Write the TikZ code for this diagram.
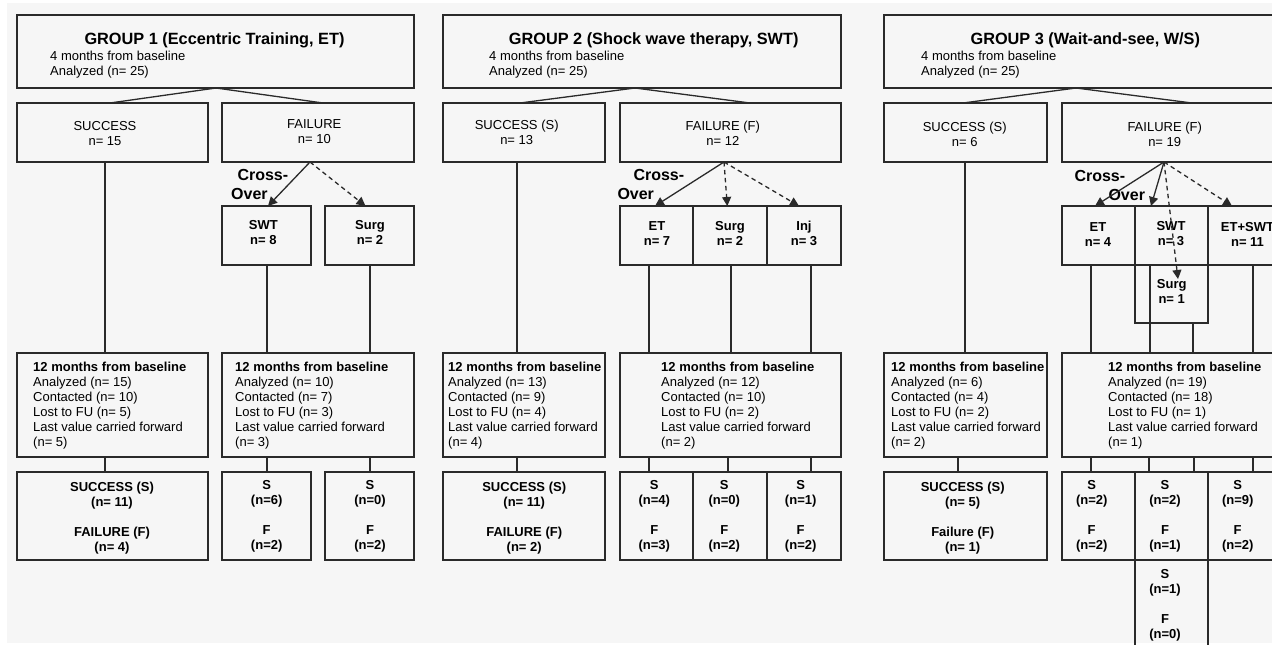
\documentclass[tikz,border=0pt]{standalone}
\usepackage{fontspec}
\setmainfont{Liberation Sans}
\usetikzlibrary{arrows.meta,calc}
\definecolor{bgc}{HTML}{F6F6F6}
\definecolor{linec}{HTML}{2A2A2A}
\newcommand{\mybox}[5]{\node[box, minimum width={#4-#2}, minimum height={#5-#3}] (#1) at ({(#2+#4)/2},{(#3+#5)/2}) {};}
\newcommand{\vcon}[3]{\draw[ln] ([xshift=#3pt]#1.south) -- ([xshift=#3pt]#1.south |- #2.north);}
\begin{document}
\begin{tikzpicture}[x=1pt,y=-1pt,
  box/.style={draw=linec, line width=1.3pt, rectangle, inner sep=0pt, outer sep=0pt},
  ln/.style={draw=linec, line width=1.3pt},
  arr/.style={ln, -{Triangle[length=9pt,width=9pt]}},
  darr/.style={arr, dash pattern=on 4.5pt off 3.5pt},
  txt/.style={font=\fontsize{13}{15}\selectfont, inner sep=0pt, text=black},
  btxt/.style={font=\fontsize{13}{15}\selectfont\bfseries, inner sep=0pt, text=black, align=center, anchor=base},
  ttl/.style={font=\fontsize{16.3}{19}\selectfont\bfseries, inner sep=0pt, anchor=base},
  crs/.style={font=\fontsize{16}{19}\selectfont\bfseries, inner sep=0pt, anchor=base west},
  ]
\useasboundingbox (0,0) rectangle (1272,645);
\clip (0,0) rectangle (1272,645);
\fill[white] (0,0) rectangle (1272,645);
\fill[bgc] (7,3) rectangle (1272,643);

% (multi-line text nodes are placed by the baseline of their LAST line)

% ---------------- GROUP 1 ----------------
\mybox{h1}{17}{15}{414}{88}
\mybox{s1}{17}{103}{208}{162}
\mybox{f1}{222}{103}{414}{162}
\mybox{swt1}{222}{206}{311}{265}
\mybox{surg1}{325}{206}{414}{265}
\mybox{m1a}{17}{353}{208}{457}
\mybox{m1b}{222}{353}{414}{457}
\mybox{r1a}{17}{472}{208}{560}
\mybox{r1b}{222}{472}{311}{560}
\mybox{r1c}{325}{472}{414}{560}

\node[ttl] (h1t) at (214.5,44) {GROUP 1 (Eccentric Training, ET)};
\node[txt, anchor=base west, align=left] (h1s) at (50,75.5) {4 months from baseline\\Analyzed (n= 25)};
\node[txt, anchor=base, align=center] (s1t) at (105,145) {SUCCESS\\n= 15};
\node[txt, anchor=base, align=center] (f1t) at (314.3,143) {FAILURE\\n= 10};
\node[crs] (cr1) at (237.3,180) {Cross-};
\node[crs] (ov1) at (231,199) {Over};
\node[btxt] (swt1t) at (263.3,244.5) {SWT\\n= 8};
\node[btxt] (surg1t) at (370,244.5) {Surg\\n= 2};
\node[txt, anchor=base west, align=left] (m1at) at (33,446.7) {\textbf{12 months from baseline}\\Analyzed (n= 15)\\Contacted (n= 10)\\Lost to FU (n= 5)\\Last value carried forward\\(n= 5)};
\node[txt, anchor=base west, align=left] (m1bt) at (235,446.7) {\textbf{12 months from baseline}\\Analyzed (n= 10)\\Contacted (n= 7)\\Lost to FU (n= 3)\\Last value carried forward\\(n= 3)};
\node[btxt] (r1at) at (112,551.5) {SUCCESS (S)\\(n= 11)\\[15pt]FAILURE (F)\\(n= 4)};
\node[btxt] (r1bt) at (266.7,549.5) {S\\(n=6)\\[15pt]F\\(n=2)};
\node[btxt] (r1ct) at (370,549.5) {S\\(n=0)\\[15pt]F\\(n=2)};

\draw[ln] ([xshift=0.5pt]h1.south) -- ([xshift=-2.5pt]s1.north);
\draw[ln] ([xshift=0.5pt]h1.south) -- ([xshift=5pt]f1.north);
\draw[arr] ([xshift=-8pt]f1.south) -- ([xshift=1.5pt]swt1.north);
\draw[darr] ([xshift=-8pt]f1.south) -- ([xshift=-4pt]surg1.north);
\vcon{s1}{m1a}{-7.5}
\vcon{swt1}{m1b}{0.5}
\vcon{surg1}{m1b}{0.5}
\vcon{m1a}{r1a}{-7.5}
\draw[ln] (m1b.south -| 267,0) -- (r1b.north -| 267,0);
\draw[ln] (m1b.south -| 370,0) -- (r1c.north -| 370,0);

% ---------------- GROUP 2 ----------------
\mybox{h2}{443}{15}{841}{88}
\mybox{s2}{443}{103}{605}{162}
\mybox{f2}{620}{103}{841}{162}
\mybox{et2}{620}{206}{693}{265}
\mybox{surg2}{693}{206}{767}{265}
\mybox{inj2}{767}{206}{841}{265}
\mybox{m2a}{443}{353}{605}{457}
\mybox{m2b}{620}{353}{841}{457}
\mybox{r2a}{443}{472}{605}{560}
\mybox{r2b}{620}{472}{693}{560}
\mybox{r2c}{693}{472}{767}{560}
\mybox{r2d}{767}{472}{841}{560}

\node[ttl] (h2t) at (653.7,44) {GROUP 2 (Shock wave therapy, SWT)};
\node[txt, anchor=base west, align=left] (h2s) at (489,75.5) {4 months from baseline\\Analyzed (n= 25)};
\node[txt, anchor=base, align=center] (s2t) at (516.7,144.5) {SUCCESS (S)\\n= 13};
\node[txt, anchor=base, align=center] (f2t) at (722.8,145) {FAILURE (F)\\n= 12};
\node[crs] (cr2) at (633.3,180) {Cross-};
\node[crs] (ov2) at (617.3,199) {Over};
\node[btxt] (et2t) at (657,245) {ET\\n= 7};
\node[btxt] (surg2t) at (730,245) {Surg\\n= 2};
\node[btxt] (inj2t) at (804,245) {Inj\\n= 3};
\node[txt, anchor=base west, align=left] (m2at) at (448,446.7) {\textbf{12 months from baseline}\\Analyzed (n= 13)\\Contacted (n= 9)\\Lost to FU (n= 4)\\Last value carried forward\\(n= 4)};
\node[txt, anchor=base west, align=left] (m2bt) at (661,446.7) {\textbf{12 months from baseline}\\Analyzed (n= 12)\\Contacted (n= 10)\\Lost to FU (n= 2)\\Last value carried forward\\(n= 2)};
\node[btxt] (r2at) at (524.2,551.5) {SUCCESS (S)\\(n= 11)\\[15pt]FAILURE (F)\\(n= 2)};
\node[btxt] (r2bt) at (654.3,549.5) {S\\(n=4)\\[15pt]F\\(n=3)};
\node[btxt] (r2ct) at (724.3,549.5) {S\\(n=0)\\[15pt]F\\(n=2)};
\node[btxt] (r2dt) at (800.7,549.5) {S\\(n=1)\\[15pt]F\\(n=2)};

\draw[ln] ([xshift=-7pt]h2.south) -- ([xshift=-4pt]s2.north);
\draw[ln] ([xshift=-7pt]h2.south) -- ([xshift=19.5pt]f2.north);
\draw[arr] ([xshift=-6.5pt]f2.south) -- ([xshift=-1.5pt]et2.north);
\draw[darr] ([xshift=-6.5pt]f2.south) -- ([xshift=-2.7pt]surg2.north);
\draw[darr] ([xshift=-6.5pt]f2.south) -- ([xshift=-5pt]inj2.north);
\vcon{s2}{m2a}{-7}
\vcon{et2}{m2b}{-7.5}
\vcon{surg2}{m2b}{1}
\vcon{inj2}{m2b}{7}
\vcon{m2a}{r2a}{-7}
\draw[ln] (r2b.north -| 649,0) -- (m2b.south -| 649,0);
\draw[ln] (r2c.north -| 728,0) -- (m2b.south -| 728,0);
\draw[ln] (r2d.north -| 811,0) -- (m2b.south -| 811,0);

% ---------------- GROUP 3 ----------------
\mybox{h3}{884}{15}{1282}{88}
\mybox{s3}{884}{103}{1047}{162}
\mybox{f3}{1062}{103}{1283}{162}
\mybox{et3}{1062}{206}{1135}{265}
\mybox{swt3}{1135}{206}{1208}{265}
\mybox{etswt3}{1208}{206}{1282}{265}
\mybox{surg3}{1135}{265}{1208}{323}
\mybox{m3a}{884}{353}{1047}{457}
\mybox{m3b}{1062}{353}{1283}{457}
\mybox{r3a}{884}{472}{1047}{560}
\mybox{r3b}{1062}{472}{1135}{560}
\mybox{r3c}{1135}{472}{1208}{560}
\mybox{r3d}{1208}{472}{1282}{560}
\mybox{r3e}{1135}{560}{1208}{700}

\node[ttl] (h3t) at (1085.3,44) {GROUP 3 (Wait-and-see, W/S)};
\node[txt, anchor=base west, align=left] (h3s) at (921,75.5) {4 months from baseline\\Analyzed (n= 25)};
\node[txt, anchor=base, align=center] (s3t) at (964.7,146) {SUCCESS (S)\\n= 6};
\node[txt, anchor=base, align=center] (f3t) at (1164.7,146.5) {FAILURE (F)\\n= 19};
\node[crs] (cr3) at (1074.3,181.5) {Cross-};
\node[crs] (ov3) at (1108.3,200.5) {Over};
\node[btxt] (et3t) at (1098,246.5) {ET\\n= 4};
\node[btxt] (swt3t) at (1171,245) {SWT\\n= 3};
\node[btxt] (etswt3t) at (1247.5,246.5) {ET+SWT\\n= 11};
\node[btxt] (surg3t) at (1171.7,303.5) {Surg\\n= 1};
\node[txt, anchor=base west, align=left] (m3at) at (891,446.7) {\textbf{12 months from baseline}\\Analyzed (n= 6)\\Contacted (n= 4)\\Lost to FU (n= 2)\\Last value carried forward\\(n= 2)};
\node[txt, anchor=base west, align=left] (m3bt) at (1108,446.7) {\textbf{12 months from baseline}\\Analyzed (n= 19)\\Contacted (n= 18)\\Lost to FU (n= 1)\\Last value carried forward\\(n= 1)};
\node[btxt] (r3at) at (962.7,551.5) {SUCCESS (S)\\(n= 5)\\[15pt]Failure (F)\\(n= 1)};
\node[btxt] (r3bt) at (1091.7,549.5) {S\\(n=2)\\[15pt]F\\(n=2)};
\node[btxt] (r3ct) at (1165,549.5) {S\\(n=2)\\[15pt]F\\(n=1)};
\node[btxt] (r3dt) at (1237.7,549.5) {S\\(n=9)\\[15pt]F\\(n=2)};
\node[btxt] (r3et) at (1165,638.5) {S\\(n=1)\\[15pt]F\\(n=0)};

\draw[ln] ([xshift=-7pt]h3.south) -- ([xshift=-2.5pt]s3.north);
\draw[ln] ([xshift=-7pt]h3.south) -- ([xshift=19.5pt]f3.north);
\draw[arr] ([xshift=-8.5pt]f3.south) -- ([xshift=-3.5pt]et3.north);
\draw[arr] ([xshift=-8.5pt]f3.south) -- ([xshift=-20.5pt]swt3.north);
\draw[darr] ([xshift=-8.5pt]f3.south) -- ([xshift=6.5pt,yshift=-14pt]surg3.north);
\draw[darr] ([xshift=-8.5pt]f3.south) -- ([xshift=-13pt]etswt3.north);
\vcon{s3}{m3a}{-0.5}
\vcon{m3a}{r3a}{-7.5}
\draw[ln] (et3.south -| 1091,0) -- (m3b.north -| 1091,0);
\draw[ln] (swt3.south -| 1150,0) -- (m3b.north -| 1150,0);
\draw[ln] (surg3.south -| 1193,0) -- (m3b.north -| 1193,0);
\draw[ln] (etswt3.south -| 1253,0) -- (m3b.north -| 1253,0);
\draw[ln] (m3b.south -| 1091,0) -- (r3b.north -| 1091,0);
\draw[ln] (m3b.south -| 1149,0) -- (r3c.north -| 1149,0);
\draw[ln] (m3b.south -| 1194,0) -- (r3c.north -| 1194,0);
\draw[ln] (m3b.south -| 1253,0) -- (r3d.north -| 1253,0);
\end{tikzpicture}
\end{document}
